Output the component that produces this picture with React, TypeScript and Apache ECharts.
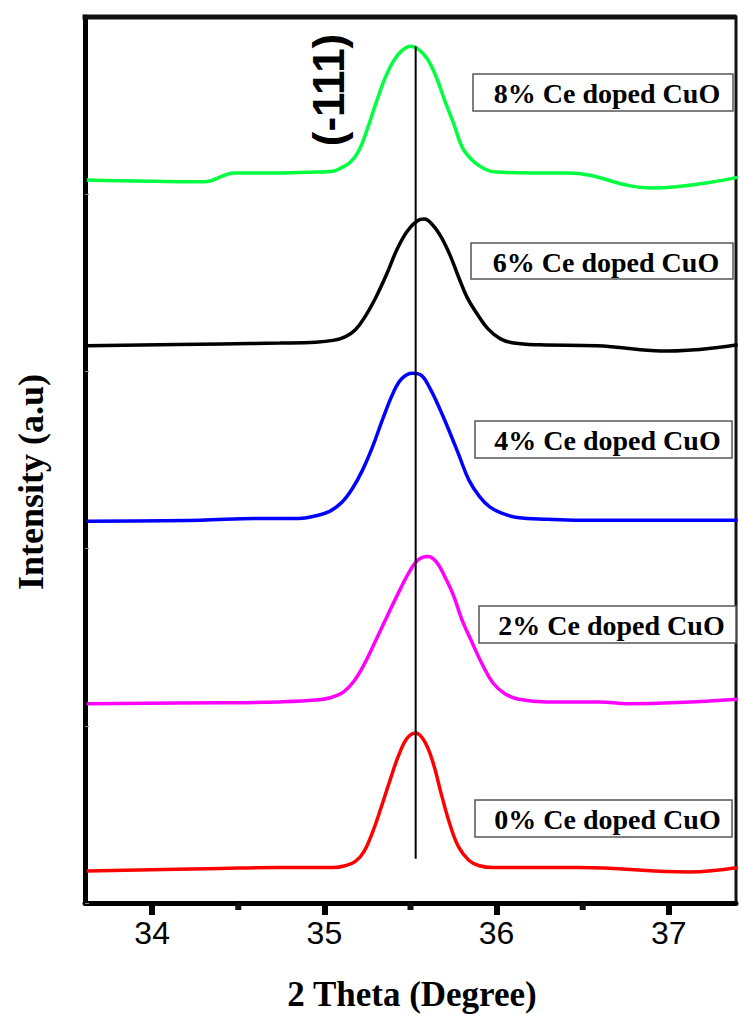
import React, { useEffect, useRef } from "react";
import * as echarts from "echarts";

// ---- data (2θ in degrees, intensity in arbitrary units, stacked with offsets) ----
const xMin = 33.61;
const xMax = 37.39;
const yMin = 0;
const yMax = 1000;
const majorTicks = [34, 35, 36, 37];
const minorTicks = [34.5, 35.5, 36.5];

const ce8 = [[33.62,816],[34.30,814],[34.48,824],[34.74,824],[34.95,825],[35.05,826],[35.10,830],[35.15,836],[35.20,849],[35.25,874],[35.30,903],[35.35,930],[35.40,950],[35.45,962],[35.50,967],[35.55,963],[35.60,952],[35.65,932],[35.70,905],[35.75,880],[35.80,853],[35.85,840],[35.90,832],[35.95,827],[36.00,825],[36.20,824],[36.41,824],[36.90,807],[37.40,819]];
const ce6 = [[33.62,629],[34.40,631],[34.74,632],[34.95,633],[35.05,635],[35.12,639],[35.18,647],[35.24,663],[35.30,684],[35.36,709],[35.42,737],[35.48,758],[35.54,770],[35.58,772],[35.63,765],[35.68,751],[35.73,731],[35.78,706],[35.83,683],[35.89,664],[35.95,648],[36.02,637],[36.10,632],[36.25,630],[36.58,629],[37.00,623],[37.40,630]];
const ce4 = [[33.62,431],[34.28,432],[34.60,434],[34.85,434],[34.95,437],[35.03,442],[35.10,452],[35.16,467],[35.22,488],[35.28,515],[35.34,547],[35.40,576],[35.45,592],[35.51,598],[35.56,596],[35.61,582],[35.66,562],[35.72,535],[35.78,506],[35.84,477],[35.90,459],[35.96,447],[36.03,440],[36.12,435],[36.30,433],[36.48,432],[37.40,432]];
const ce2 = [[33.62,225],[34.40,226],[34.74,227],[34.95,229],[35.04,232],[35.11,238],[35.17,250],[35.23,269],[35.30,297],[35.37,326],[35.44,354],[35.50,376],[35.55,388],[35.60,391],[35.65,385],[35.70,368],[35.75,347],[35.80,319],[35.86,293],[35.92,268],[35.98,248],[36.05,236],[36.13,230],[36.29,227],[36.60,227],[36.76,225],[37.40,230]];
const ce0 = [[33.62,36],[34.40,39],[34.74,40],[34.95,40],[35.05,40],[35.12,42],[35.18,47],[35.23,58],[35.28,80],[35.33,108],[35.38,138],[35.43,166],[35.48,186],[35.53,192],[35.58,183],[35.63,159],[35.68,122],[35.73,88],[35.78,63],[35.84,48],[35.90,42],[35.98,40],[36.20,40],[36.48,40],[37.12,35],[37.40,40]];

const peakPosition = 35.53;
const peakLineRange = [50, 967];

const seriesNames = ["0% Ce doped CuO", "2% Ce doped CuO", "4% Ce doped CuO", "6% Ce doped CuO", "8% Ce doped CuO"];
const seriesData = [ce0, ce2, ce4, ce6, ce8];
const seriesColors = ["#ff0000", "#ff00ff", "#0000ff", "#000000", "#00ff40"];

// label boxes (pixel layout of annotation boxes)
const boxLayout = [
  [475, 800, 257, 37],
  [479, 606, 257, 37],
  [475, 421, 257, 37],
  [471, 243, 262, 36],
  [473, 74, 260, 37],
];

const W = 739;
const H = 1014;

export default function App() {
  const ref = useRef<HTMLDivElement>(null);
  useEffect(() => {
    document.body.style.margin = "0";
    if (!ref.current) return;
    const chart = echarts.init(ref.current, undefined, { renderer: "svg", width: W, height: H });
    const gridRect = { left: 85, right: 3, top: 17, bottom: 111 };

    const graphics: any[] = [];
    boxLayout.forEach((b, i) => {
      graphics.push({
        type: "rect",
        shape: { x: b[0], y: b[1], width: b[2], height: b[3] },
        style: { fill: "#fff", stroke: "#555", lineWidth: 1.5 },
        z: 100,
      });
      graphics.push({
        type: "text",
        x: b[0] + b[2] / 2 + 4,
        y: b[1] + b[3] / 2 + 1,
        style: {
          text: seriesNames[i],
          font: "bold 28px 'Liberation Serif', 'Times New Roman', serif",
          fill: "#000",
          align: "center",
          verticalAlign: "middle",
        },
        z: 101,
      });
    });
    graphics.push({
      type: "text",
      x: 328,
      y: 90,
      rotation: Math.PI / 2,
      style: {
        text: "(-111)",
        font: "bold 44px 'Liberation Sans', Arial, sans-serif",
        fill: "#000",
        align: "center",
        verticalAlign: "middle",
      },
      z: 101,
    });
    graphics.push({
      type: "text",
      x: 31,
      y: 482,
      rotation: Math.PI / 2,
      style: {
        text: "Intensity (a.u)",
        font: "bold 36px 'Liberation Serif', 'Times New Roman', serif",
        fill: "#000",
        align: "center",
        verticalAlign: "middle",
      },
    });
    graphics.push({
      type: "text",
      x: 412,
      y: 994,
      style: {
        text: "2 Theta (Degree)",
        font: "bold 35px 'Liberation Serif', 'Times New Roman', serif",
        fill: "#000",
        align: "center",
        verticalAlign: "middle",
      },
    });

    const series: any[] = seriesData.map((d, i) => ({
      name: seriesNames[i],
      type: "line",
      xAxisIndex: 0,
      yAxisIndex: 0,
      data: d,
      smooth: 0.4,
      showSymbol: false,
      symbol: "none",
      clip: true,
      lineStyle: { color: seriesColors[i], width: 3.5 },
      z: 3,
    }));
    series.push({
      name: "(-111) reference",
      type: "line",
      xAxisIndex: 0,
      yAxisIndex: 0,
      data: [[peakPosition, peakLineRange[0]], [peakPosition, peakLineRange[1]]],
      showSymbol: false,
      symbol: "none",
      lineStyle: { color: "#000", width: 2 },
      z: 4,
    });

    const axisFont = "'Liberation Sans', Arial, sans-serif";

    chart.setOption({
      animation: false,
      backgroundColor: "#fff",
      grid: {
        ...gridRect,
        containLabel: false,
        show: true,
        backgroundColor: "rgba(255,255,255,0)",
        borderColor: "#111111",
        borderWidth: 3,
      },
      xAxis: [
        {
          type: "value",
          position: "bottom",
          min: xMin,
          max: xMax,
          axisLine: { show: true, onZero: false, lineStyle: { color: "#000", width: 5 } },
          axisTick: { show: true, customValues: majorTicks, inside: false, length: 12, lineStyle: { color: "#000", width: 6 } },
          axisLabel: {
            show: true,
            customValues: majorTicks,
            margin: 14,
            fontSize: 32,
            fontFamily: axisFont,
            color: "#000",
            formatter: (v: number) => String(v),
          },
          splitLine: { show: false },
        },
      ],
      yAxis: [
        {
          type: "value",
          position: "left",
          min: yMin,
          max: yMax,
          interval: 200,
          axisLine: { show: true, onZero: false, lineStyle: { color: "#000", width: 5 } },
          axisTick: { show: true, inside: true, length: 4, lineStyle: { color: "#888", width: 1 } },
          axisLabel: { show: false },
          splitLine: { show: false },
        },
      ],
      series,
      graphic: graphics,
    });

    // frame top edge and minor ticks as filled bars, placed through the chart's own scales
    const yTop = chart.convertToPixel({ yAxisIndex: 0 }, yMax) as number;
    const yBottom = chart.convertToPixel({ yAxisIndex: 0 }, yMin) as number;
    const xLeft = chart.convertToPixel({ xAxisIndex: 0 }, xMin) as number;
    const xRight = chart.convertToPixel({ xAxisIndex: 0 }, xMax) as number;
    const extra: any[] = [
      {
        type: "rect",
        shape: { x: xLeft - 2.5, y: yTop - 2.5, width: xRight - xLeft + 3, height: 5 },
        style: { fill: "#111111" },
        z: 50,
      },
    ];
    minorTicks.forEach((v) => {
      const px = chart.convertToPixel({ xAxisIndex: 0 }, v) as number;
      extra.push({
        type: "rect",
        shape: { x: px - 3, y: yBottom, width: 6, height: 7 },
        style: { fill: "#111111" },
        z: 50,
      });
    });
    chart.setOption({ graphic: [...graphics, ...extra] });

    return () => chart.dispose();
  }, []);
  return <div ref={ref} style={{ width: W, height: H }} />;
}
